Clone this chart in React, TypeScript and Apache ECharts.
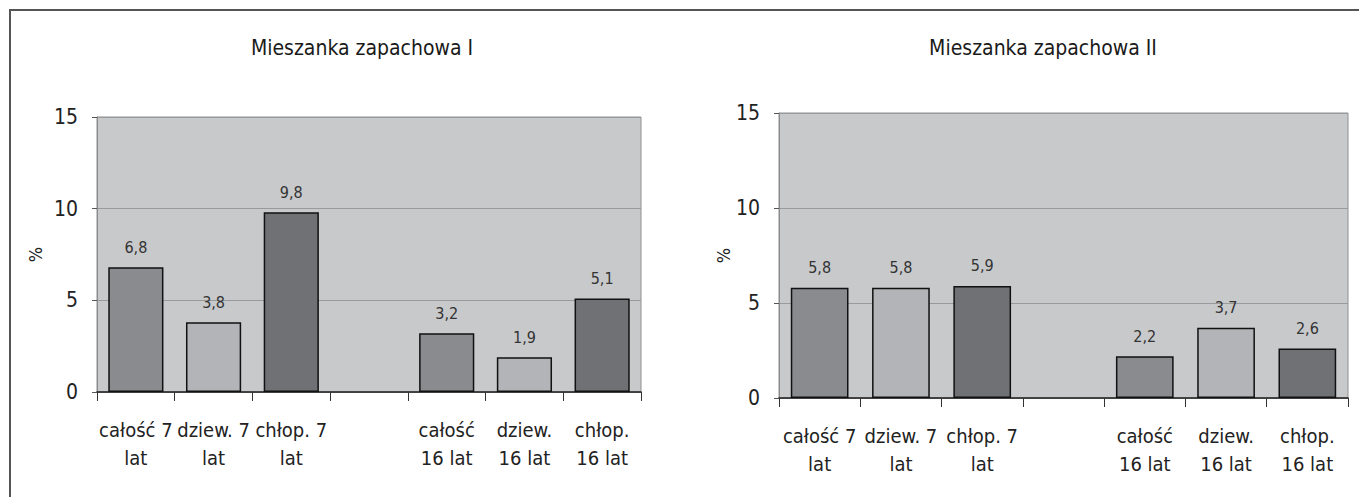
import React, { useEffect, useRef } from "react";
import * as echarts from "echarts";

const categories = [
  "całość 7\nlat",
  "dziew. 7\nlat",
  "chłop. 7\nlat",
  "",
  "całość\n16 lat",
  "dziew.\n16 lat",
  "chłop.\n16 lat",
];
const mixIValues: (number | null)[] = [6.8, 3.8, 9.8, null, 3.2, 1.9, 5.1];
const mixIIValues: (number | null)[] = [5.8, 5.8, 5.9, null, 2.2, 3.7, 2.6];
const titles = ["Mieszanka zapachowa I", "Mieszanka zapachowa II"];
const yTicks = { min: 0, max: 15, interval: 5 };
const yName = "%";

const barColors = ["#8a8b8f", "#b3b4b7", "#707175", "#000000", "#8a8b8f", "#b3b4b7", "#707175"];

const FONT = "'DejaVu Sans Condensed', 'Liberation Sans', Arial, sans-serif";

export default function App() {
  const ref = useRef<HTMLDivElement>(null);
  useEffect(() => {
    if (!ref.current) return;
    const chart = echarts.init(ref.current, null, { renderer: "svg" });
    const grids = [
      { left: 97, top: 117, width: 544, height: 275 },
      { left: 779, top: 113, width: 569, height: 285 },
    ];
    const nameGaps = [53, 45];
    const mkData = (vals: (number | null)[]) =>
      vals.map((v, i) => ({
        value: v === null ? "-" : v,
        itemStyle: { color: barColors[i] },
      }));
    const titleStyle = { fontFamily: FONT, fontSize: 21, fontWeight: "normal", color: "#1a1a1a" };
    const option: any = {
      animation: false,
      backgroundColor: "#ffffff",
      textStyle: { fontFamily: FONT },
      title: [
        { text: titles[0], left: 357, top: 32, textAlign: "center", textStyle: titleStyle },
        { text: titles[1], left: 1038, top: 32, textAlign: "center", textStyle: titleStyle },
      ],
      grid: grids.map((g) => ({
        ...g,
        show: true,
        backgroundColor: "#c8c9cb",
        borderColor: "#909090",
        borderWidth: 1,
        containLabel: false,
      })),
      xAxis: grids.map((_, gi) => ({
        type: "category",
        gridIndex: gi,
        data: categories,
        boundaryGap: true,
        axisLine: { show: true, lineStyle: { color: "#222", width: 1.5 } },
        axisTick: { show: true, alignWithLabel: false, length: 9, lineStyle: { color: "#333", width: 1 } },
        axisLabel: {
          interval: 0,
          margin: 24,
          fontSize: 20,
          lineHeight: 28,
          color: "#222",
          fontFamily: FONT,
        },
        splitLine: { show: false },
      })),
      yAxis: grids.map((_, gi) => ({
        type: "value",
        gridIndex: gi,
        min: yTicks.min,
        max: yTicks.max,
        interval: yTicks.interval,
        name: yName,
        nameLocation: "middle",
        nameRotate: 90,
        nameGap: nameGaps[gi],
        nameTextStyle: { fontSize: 18, color: "#222", fontFamily: FONT },
        axisLine: { show: true, lineStyle: { color: "#8a8a8a", width: 1 } },
        axisTick: { show: true, length: 5, lineStyle: { color: "#555" } },
        axisLabel: { margin: 19, fontSize: 21, color: "#222", fontFamily: FONT },
        splitLine: { show: true, lineStyle: { color: "#999a9c", width: 1 } },
      })),
      series: [mixIValues, mixIIValues].map((vals, gi) => ({
        type: "bar",
        xAxisIndex: gi,
        yAxisIndex: gi,
        barWidth: "71%",
        data: mkData(vals),
        itemStyle: { borderColor: "#111", borderWidth: 1.5 },
        label: {
          show: true,
          position: "top",
          distance: 12,
          fontSize: 16,
          color: "#333",
          fontFamily: FONT,
          formatter: (p: any) => String(p.value).replace(".", ","),
        },
      })),
      graphic: [
        { type: "line", shape: { x1: 9, y1: 10, x2: 1359, y2: 10 }, style: { stroke: "#555", lineWidth: 2 } },
        { type: "line", shape: { x1: 10, y1: 9, x2: 10, y2: 497 }, style: { stroke: "#555", lineWidth: 2 } },
      ],
    };
    chart.setOption(option);
    return () => chart.dispose();
  }, []);
  return (
    <div
      ref={ref}
      style={{ position: "fixed", left: 0, top: 0, width: 1359, height: 497 }}
    />
  );
}
